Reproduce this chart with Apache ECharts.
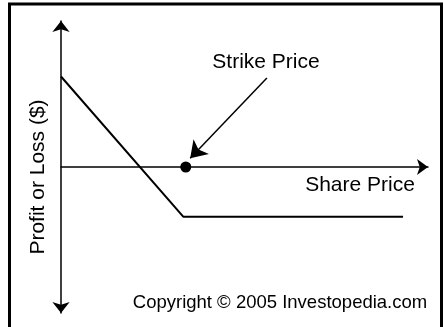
<!DOCTYPE html>
<html>
<head>
<meta charset="utf-8">
<script src="https://cdn.jsdelivr.net/npm/echarts@6/dist/echarts.min.js"></script>
<style>
  html, body { margin: 0; padding: 0; background: #fff; }
  #chart { width: 444px; height: 327px; }
</style>
</head>
<body>
<div id="chart"></div>
<script>
// payoff line (share price, profit/loss)
const payoffX = [0, 33.3, 93.2]
const payoffY = [6.2, -3.4, -3.4]
const strikePoint = [34, 0]
// annotation arrow from label towards strike point
const arrowFrom = [56.1, 6.1]
const arrowTo = [35.2, 0.6]

const font = "'Liberation Sans', Arial, Helvetica, sans-serif"

const chart = echarts.init(document.getElementById('chart'))

chart.setOption({
  animation: false,
  grid: { left: 61, right: 16, top: 21, bottom: 14 },
  xAxis: {
    type: 'value',
    min: 0,
    max: 100,
    axisLine: {
      show: true,
      onZero: true,
      symbol: ['none', 'arrow'],
      symbolSize: [12, 11],
      lineStyle: { color: '#000', width: 1.5 }
    },
    axisTick: { show: false },
    axisLabel: { show: false },
    splitLine: { show: false }
  },
  yAxis: {
    type: 'value',
    min: -10,
    max: 10,
    axisLine: {
      show: true,
      symbol: ['arrow', 'arrow'],
      symbolSize: [13, 11],
      lineStyle: { color: '#000', width: 1.5 }
    },
    axisTick: { show: false },
    axisLabel: { show: false },
    splitLine: { show: false }
  },
  graphic: [
    {
      type: 'rect',
      shape: { x: 9.5, y: 4, width: 432, height: 360 },
      style: { fill: 'none', stroke: '#000', lineWidth: 3 }
    },
    {
      type: 'text',
      x: 266, y: 62,
      style: { text: 'Strike Price', font: '21px ' + font, fill: '#000', textAlign: 'center', textVerticalAlign: 'middle' }
    },
    {
      type: 'text',
      x: 360, y: 185,
      style: { text: 'Share Price', font: '21px ' + font, fill: '#000', textAlign: 'center', textVerticalAlign: 'middle' }
    },
    {
      type: 'text',
      x: 280, y: 303,
      style: { text: 'Copyright © 2005 Investopedia.com', font: '18.5px ' + font, fill: '#000', textAlign: 'center', textVerticalAlign: 'middle' }
    },
    {
      type: 'text',
      x: 38, y: 177,
      rotation: Math.PI / 2,
      style: { text: 'Profit or Loss ($)', font: '21px ' + font, fill: '#000', textAlign: 'center', textVerticalAlign: 'middle' }
    }
  ],
  series: [
    {
      type: 'line',
      data: payoffX.map((x, i) => [x, payoffY[i]]),
      showSymbol: false,
      lineStyle: { color: '#000', width: 2 },
      z: 3
    },
    {
      type: 'scatter',
      data: [strikePoint],
      symbolSize: 11,
      itemStyle: { color: '#000', opacity: 1 },
      z: 4
    },
    {
      type: 'lines',
      coordinateSystem: 'cartesian2d',
      data: [{ coords: [arrowFrom, arrowTo] }],
      symbol: ['none', 'arrow'],
      symbolSize: [12, 16],
      lineStyle: { color: '#000', width: 1.5, opacity: 1 },
      z: 4
    }
  ]
})
</script>
</body>
</html>
